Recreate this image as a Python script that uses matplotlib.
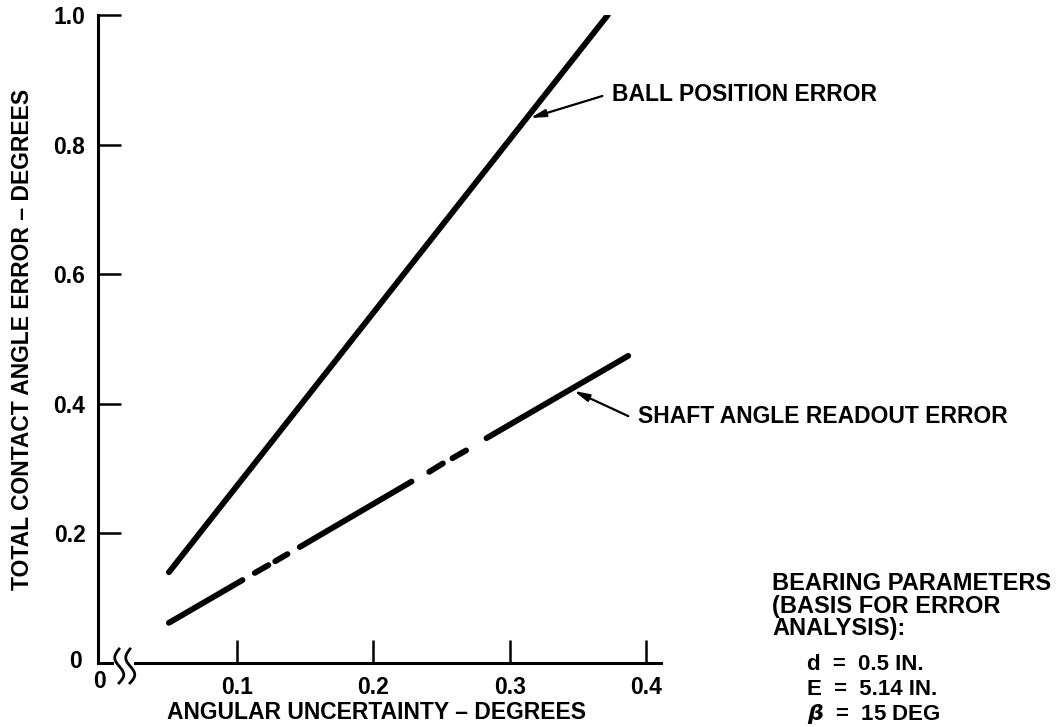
import numpy as np
import matplotlib
matplotlib.use("Agg")
import matplotlib.pyplot as plt

plt.rcParams["font.family"] = ["Liberation Sans", "DejaVu Sans"]
plt.rcParams["font.weight"] = "bold"

###############################################################
# data
###############################################################
ball_x = [0.05, 0.372]
ball_y = [0.14, 1.0]

# shaft angle readout error: long runs broken by two short dashes
shaft_seg_x = [[0.050, 0.104], [0.113, 0.123], [0.128, 0.137],
               [0.146, 0.228], [0.241, 0.251], [0.258, 0.268],
               [0.283, 0.387]]
shaft_seg_y = [[0.062, 0.128], [0.139, 0.151], [0.157, 0.168],
               [0.179, 0.280], [0.295, 0.308], [0.316, 0.328],
               [0.347, 0.474]]

x_ticks = [0.1, 0.2, 0.3, 0.4]
x_ticklabels = ["0.1", "0.2", "0.3", "0.4"]
y_ticks = [0.2, 0.4, 0.6, 0.8, 1.0]
y_ticklabels = ["0.2", "0.4", "0.6", "0.8", "1.0"]

ball_label = "BALL POSITION ERROR"
ball_tip = (0.315, 0.841)
ball_tail = (0.368, 0.875)
ball_text = (0.375, 0.877)

shaft_label = "SHAFT ANGLE READOUT ERROR"
shaft_tip = (0.347, 0.420)
shaft_tail = (0.387, 0.381)
shaft_text = (0.394, 0.380)

param_head = ["BEARING PARAMETERS", "(BASIS FOR ERROR", "ANALYSIS):"]
param_lines = [r"d  =  0.5 IN.", r"E  =  5.14 IN.", r"$\beta$  =  15 DEG"]

###############################################################
# figure
###############################################################
W, H = 1062, 727
fig = plt.figure(figsize=(W / 100, H / 100), dpi=100)

def px(x, y):
    return x / W, 1 - y / H

l, t = px(98, 15)
r, b = px(661, 663)
ax = fig.add_axes([l, b, r - l, t - b])
ax.set_xlim(-0.002, 0.411)
ax.set_ylim(0, 1.0)

for s in ["top", "right"]:
    ax.spines[s].set_visible(False)
for s in ["left", "bottom"]:
    ax.spines[s].set_linewidth(2.2)

ax.set_xticks(x_ticks)
ax.set_xticklabels(x_ticklabels)
ax.set_yticks(y_ticks)
ax.set_yticklabels(y_ticklabels)
ax.tick_params(direction="in", length=16.5, width=1.8, labelsize=16.5, pad=9)
for lab in ax.get_xticklabels() + ax.get_yticklabels():
    lab.set_fontweight("bold")

lw = 4.2
ax.plot(ball_x, ball_y, color="black", lw=lw, solid_capstyle="round")
for sx, sy in zip(shaft_seg_x, shaft_seg_y):
    ax.plot(sx, sy, color="black", lw=lw, solid_capstyle="round")

# origin zeros
fig.text(*px(100, 681), "0", fontsize=16.5, fontweight="bold", ha="center", va="center")
fig.text(*px(76, 662), "0", fontsize=16.5, fontweight="bold", ha="center", va="center")

# axis break on the x axis
ax.add_patch(plt.Rectangle(px(114, 668), 20 / W, 10 / H, transform=fig.transFigure,
                           facecolor="white", edgecolor="none", zorder=5, clip_on=False))
tt = np.linspace(0, 1, 60)
for x0 in [119, 130]:
    xs = x0 + 5 * np.sin(2 * np.pi * tt) * (1 - tt * 0.2)
    ys = 683 - 34 * tt
    fx, fy = px(xs, ys)
    fig.add_artist(plt.Line2D(fx, fy, color="black", lw=2.0, zorder=6))

# annotations
arrow = dict(arrowstyle="-|>,head_length=0.9,head_width=0.22", color="black", lw=1.6,
             shrinkA=0, shrinkB=0)
ax.annotate("", xy=ball_tip, xytext=ball_tail, arrowprops=arrow, annotation_clip=False)
ax.text(*ball_text, ball_label, fontsize=16.5, fontweight="bold", ha="left", va="center",
        clip_on=False)
ax.annotate("", xy=shaft_tip, xytext=shaft_tail, arrowprops=arrow, annotation_clip=False)
ax.text(*shaft_text, shaft_label, fontsize=16.5, fontweight="bold", ha="left", va="center",
        clip_on=False)

ax.set_xlabel("ANGULAR UNCERTAINTY \u2013 DEGREES", fontsize=16.5, fontweight="bold")
ax.set_ylabel("TOTAL CONTACT ANGLE ERROR \u2013 DEGREES", fontsize=16.5, fontweight="bold")
ax.xaxis.set_label_coords(0.495, -0.058)
ax.yaxis.set_label_coords(-0.113, 0.5)

# bearing parameter block
for i, txt in enumerate(param_head):
    fig.text(*px(772, 583 + 23 * i), txt, fontsize=17, fontweight="bold",
             ha="left", va="center")
for i, txt in enumerate(param_lines):
    fig.text(*px(807, 665 + 24.5 * i), txt, fontsize=16, fontweight="bold",
             ha="left", va="center")

fig.savefig("out.png", dpi=100)
